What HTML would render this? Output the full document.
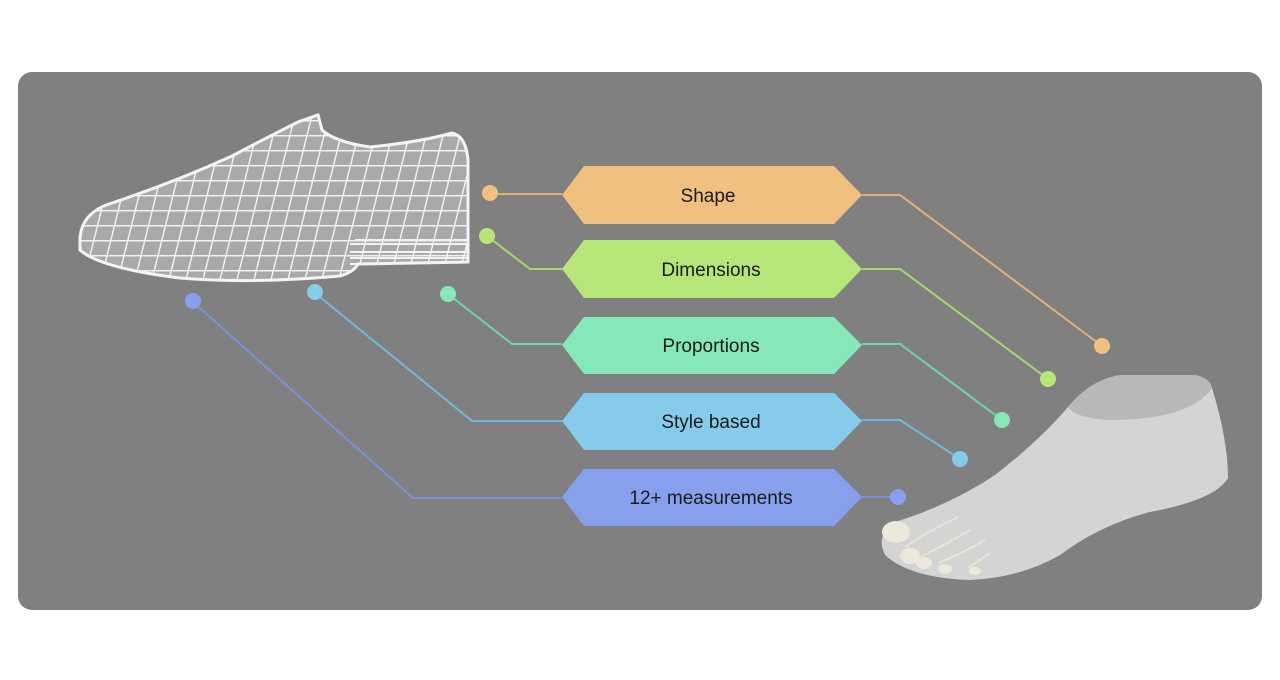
<!DOCTYPE html>
<html><head><meta charset="utf-8"><style>
html,body{margin:0;padding:0;background:#fff;width:1280px;height:680px;overflow:hidden}
svg{display:block}
text{font-family:"Liberation Sans",sans-serif;font-size:19px;fill:#1a1a1a}
</style></head><body>
<svg width="1280" height="680" viewBox="0 0 1280 680" xmlns="http://www.w3.org/2000/svg">
<defs>
<pattern id="grid" width="17" height="15" patternUnits="userSpaceOnUse" patternTransform="skewX(-14)">
<rect width="17" height="15" fill="#a9a9a9"/>
<path d="M0 0H17M0 0V15" stroke="#f2f2f2" stroke-width="3" fill="none"/>
</pattern>
<clipPath id="shoeclip"><path d="M80 238 Q82 212 112 203 Q175 182 232 156 Q270 136 298 122 L318 115 L322 130 Q335 142 370 147 Q420 142 452 133 Q466 136 468 160 L468 262 L358 264 Q354 272 340 276 Q250 284 180 278 Q100 268 80 250 Z"/></clipPath>
</defs>
<rect x="18" y="72" width="1244" height="538" rx="14" fill="#808080"/>

<!-- shoe -->
<g clip-path="url(#shoeclip)">
<rect x="60" y="100" width="430" height="200" fill="url(#grid)"/>
<path d="M350 264 H470 M350 252 H470 M350 244 H470 M350 258 H470 M355 240 H470" stroke="#f2f2f2" stroke-width="2"/>
</g>
<path d="M80 238 Q82 212 112 203 Q175 182 232 156 Q270 136 298 122 L318 115 L322 130 Q335 142 370 147 Q420 142 452 133 Q466 136 468 160 L468 262 L358 264 Q354 272 340 276 Q250 284 180 278 Q100 268 80 250 Z" fill="none" stroke="#f4f4f4" stroke-width="3"/>

<!-- foot -->
<path d="M1068 407 Q1090 380 1120 375 L1195 375 Q1210 378 1212 388 Q1228 440 1228 478 Q1215 500 1150 512 Q1100 525 1060 555 Q1020 578 970 580 Q910 578 885 555 Q875 535 895 522 Q950 505 995 475 Q1040 440 1068 407 Z" fill="#d4d4d4"/>
<path d="M1068 407 Q1090 380 1120 375 L1195 375 Q1210 378 1212 388 Q1190 420 1110 420 Q1075 418 1068 407 Z" fill="#b8b8b8"/>
<g fill="#ece8dc"><ellipse cx="896" cy="532" rx="14" ry="11"/><ellipse cx="910" cy="556" rx="10" ry="8"/><ellipse cx="924" cy="563" rx="8" ry="6"/><ellipse cx="945" cy="569" rx="7" ry="5"/><ellipse cx="975" cy="571" rx="6" ry="4"/></g>
<g stroke="#e8e4d6" stroke-width="2" fill="none"><path d="M905 547 Q930 530 958 517"/><path d="M920 557 Q945 545 970 530"/><path d="M938 563 Q965 552 985 540"/><path d="M968 568 Q980 560 990 553"/></g>

<!-- connectors -->
<g fill="none" stroke-width="2">
<path d="M490 194 H562 M862 195 H900 L1102 346" stroke="#e0b27a"/>
<path d="M487 236 L530 269 H562 M862 269 H900 L1048 379" stroke="#a8d872"/>
<path d="M448 294 L512 344 H562 M862 344 H900 L1002 420" stroke="#6fd4a8"/>
<path d="M315 293 L472 421 H562 M862 420 H900 L960 459" stroke="#72b8d8"/>
<path d="M193 302 L413 498 H562 M862 497 H898" stroke="#7990d8"/>
</g>
<g>
<circle cx="490" cy="193" r="8" fill="#f0c080"/><circle cx="1102" cy="346" r="8" fill="#f0c080"/>
<circle cx="487" cy="236" r="8" fill="#b6e57a"/><circle cx="1048" cy="379" r="8" fill="#b6e57a"/>
<circle cx="448" cy="294" r="8" fill="#86e8b8"/><circle cx="1002" cy="420" r="8" fill="#86e8b8"/>
<circle cx="315" cy="292" r="8" fill="#86cbea"/><circle cx="960" cy="459" r="8" fill="#86cbea"/>
<circle cx="193" cy="301" r="8" fill="#86a0ee"/><circle cx="898" cy="497" r="8" fill="#86a0ee"/>
</g>

<!-- hexagon labels -->
<g>
<polygon points="562,195 584,166 834,166 862,195 834,224 584,224" fill="#f0c080"/>
<text x="708" y="202" text-anchor="middle">Shape</text>
<polygon points="562,269 584,240 834,240 862,269 834,298 584,298" fill="#b6e57a"/>
<text x="711" y="276" text-anchor="middle">Dimensions</text>
<polygon points="562,345 584,317 834,317 862,345 834,374 584,374" fill="#86e8b8"/>
<text x="711" y="352" text-anchor="middle">Proportions</text>
<polygon points="562,421 584,393 834,393 862,421 834,450 584,450" fill="#86cbea"/>
<text x="711" y="428" text-anchor="middle">Style based</text>
<polygon points="562,497 584,469 834,469 862,497 834,526 584,526" fill="#86a0ee"/>
<text x="711" y="504" text-anchor="middle">12+ measurements</text>
</g>
</svg>
</body></html>
